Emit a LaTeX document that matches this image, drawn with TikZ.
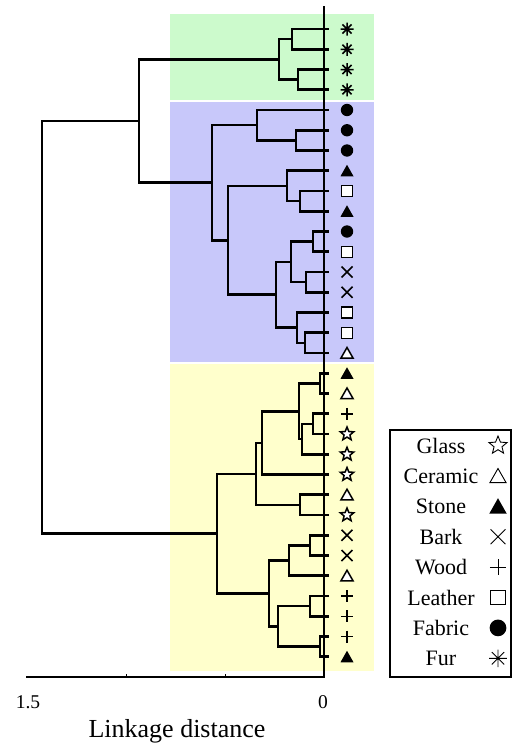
\documentclass[tikz,border=0pt]{standalone}
\usepackage{fontspec}
\setmainfont{Liberation Serif}
\usetikzlibrary{calc}
\definecolor{bggreen}{RGB}{204,250,204}
\definecolor{bgblue}{RGB}{200,200,250}
\definecolor{bgyellow}{RGB}{255,255,204}
\tikzset{
  dendro/.style={line width=2.6pt, line join=miter, line cap=rect},
  axisline/.style={line width=2.6pt, line cap=rect},
  colmark/.style={line width=1.5pt},
  legmark/.style={line width=0.9pt, scale=1.35},
  leglabel/.style={font=\fontsize{22}{22}\selectfont, anchor=base},
  pics/glass/.style={code={\draw[fill=white, line join=miter] (270:7)--(306:3.1)--(342:7)--(18:3.1)--(54:7)--(90:3.1)--(126:7)--(162:3.1)--(198:7)--(234:3.1)--cycle;}},
  pics/ceramic/.style={code={\draw[fill=white] (0,-5.5)--(6,5)--(-6,5)--cycle;}},
  pics/stone/.style={code={\fill (0,-6)--(6.5,5.5)--(-6.5,5.5)--cycle;}},
  pics/bark/.style={code={\draw (-5.5,-5.5)--(5.5,5.5) (-5.5,5.5)--(5.5,-5.5);}},
  pics/wood/.style={code={\draw (-6,0)--(6,0) (0,-6)--(0,6);}},
  pics/leather/.style={code={\draw[fill=white] (-5.5,-5.5) rectangle (5.5,5.5);}},
  pics/fabric/.style={code={\fill (0,0) circle (6.2);}},
  pics/fur/.style={code={\draw (-6.5,0)--(6.5,0) (0,-6.5)--(0,6.5) (-4.6,-4.6)--(4.6,4.6) (-4.6,4.6)--(4.6,-4.6);}},
}
\newcommand\dmerge[4]{%
  \coordinate (#1x) at (#2,0);
  \coordinate (#1m) at ($(#3)!0.5!(#4)$);
  \coordinate (#1) at (#1m -| #1x);
  \draw[dendro] (#3) -- (#3 -| #1x) -- (#4 -| #1x) -- (#4);
}
\begin{document}
\begin{tikzpicture}[x=1pt, y=-1pt]
\useasboundingbox (0,0) rectangle (514,744);
% background bands
\fill[bggreen] (170,14) rectangle (374,99.5);
\fill[bgblue] (170,101.5) rectangle (374,362);
\fill[bgyellow] (170,364) rectangle (374,671);
% leaves
\foreach \i in {0,...,31}{\coordinate (L\i) at (328,{29+20.25*\i});}
% green cluster
\dmerge{gA}{292}{L0}{L1}
\dmerge{gB}{298}{L2}{L3}
\dmerge{gG}{279}{gA}{gB}
% blue cluster
\dmerge{bC}{296}{L5}{L6}
\dmerge{bD}{257}{L4}{bC}
\dmerge{bE}{300}{L8}{L9}
\dmerge{bF}{287}{L7}{bE}
\dmerge{bH}{313}{L10}{L11}
\dmerge{bI}{306}{L12}{L13}
\dmerge{bJ}{291}{bH}{bI}
\dmerge{bM}{305}{L15}{L16}
\dmerge{bN}{297}{L14}{bM}
\dmerge{bO}{276}{bJ}{bN}
\dmerge{bK}{228}{bF}{bO}
\dmerge{bL}{212}{bD}{bK}
\dmerge{gb}{139}{gG}{bL}
% yellow cluster
\dmerge{yP}{320}{L17}{L18}
\dmerge{yQ}{313}{L19}{L20}
\dmerge{yQQ}{302}{yQ}{L21}
\dmerge{yR}{299}{yP}{yQQ}
\dmerge{yS}{262}{yR}{L22}
\dmerge{yU}{300}{L23}{L24}
\dmerge{yT}{256}{yS}{yU}
\dmerge{yV}{310}{L25}{L26}
\dmerge{yW}{289}{yV}{L27}
\dmerge{yZa}{310}{L28}{L29}
\dmerge{yZb}{320}{L30}{L31}
\dmerge{yZ}{278}{yZa}{yZb}
\dmerge{yX}{269}{yW}{yZ}
\dmerge{yY}{217}{yT}{yX}
% root
\dmerge{root}{42}{gb}{yY}
% axes
\coordinate (axtop) at (324,7);
\coordinate (axorig) at (324,677);
\coordinate (axleft) at (27,677);
\draw[axisline] (axtop) -- (axorig) -- (axleft);
\draw[line width=1pt] (126,677) -- (126,673.5) (225,677) -- (225,673.5);
\node[font=\fontsize{19.5}{19.5}\selectfont, anchor=base] (tick15) at (28,708) {1.5};
\node[font=\fontsize{19.5}{19.5}\selectfont, anchor=base] (tick0) at (323,708) {0};
\node[font=\fontsize{26}{26}\selectfont, anchor=base, inner ysep=1pt] (xlabel) at (177,737.5) {Linkage distance};
% leaf markers
\foreach \s [count=\i from 0] in {fur,fur,fur,fur,fabric,fabric,fabric,stone,leather,stone,fabric,leather,bark,bark,leather,leather,ceramic,stone,ceramic,wood,glass,glass,glass,ceramic,glass,bark,bark,ceramic,wood,wood,wood,stone}{
  \pic[colmark] at ([xshift=19pt]L\i) {\s};
}
% legend
\draw[line width=1.3pt] (390,430) rectangle (511,677);
\foreach \lab/\s [count=\k from 0] in {Glass/glass,Ceramic/ceramic,Stone/stone,Bark/bark,Wood/wood,Leather/leather,Fabric/fabric,Fur/fur}{
  \node[leglabel] (leg\s) at (441,{453+30.4*\k}) {\lab};
  \pic[legmark] at (498,{445.5+30.4*\k}) {\s};
}
\end{tikzpicture}
\end{document}
